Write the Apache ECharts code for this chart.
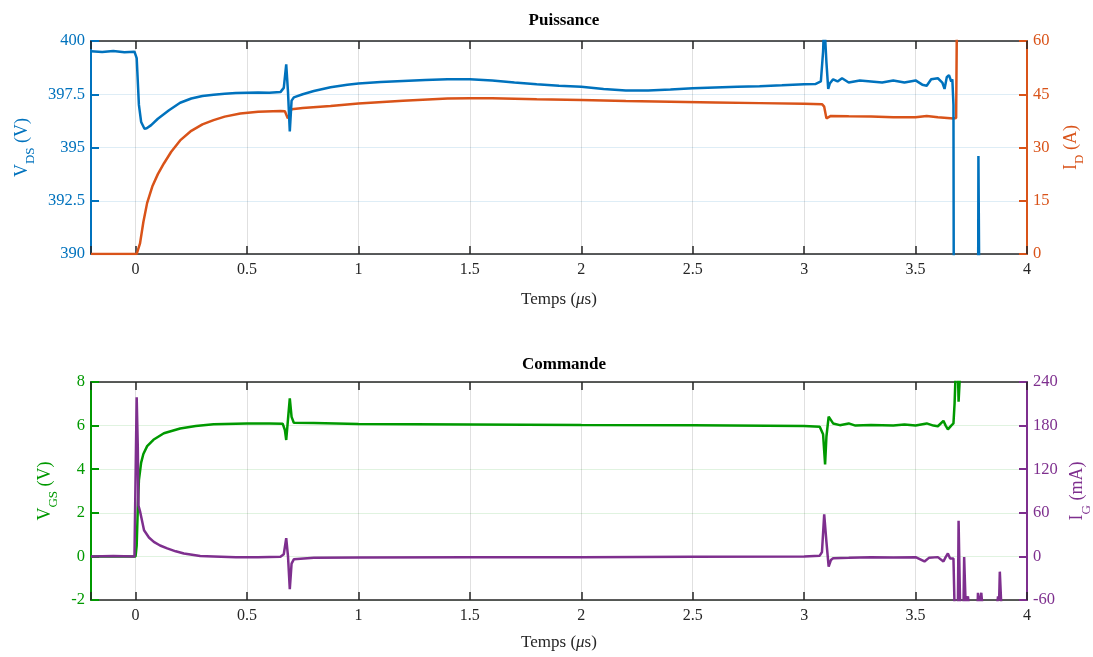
<!DOCTYPE html>
<html><head><meta charset="utf-8">
<script src="https://cdn.jsdelivr.net/npm/echarts@6/dist/echarts.min.js"></script>
<style>html,body{margin:0;padding:0;background:#fff}#c{width:1093px;height:657px}</style>
</head><body><div id="c"></div>
<script>
// ---- Data (time in µs) ----
const vdsT = [-0.2,-0.15,-0.1,-0.05,-0.005,0.005,0.015,0.025,0.04,0.05,0.07,0.1,0.15,0.2,0.25,0.3,0.35,0.4,0.45,0.5,0.55,0.6,0.65,0.665,0.676,0.684,0.692,0.7,0.71,0.75,0.8,0.875,0.95,1.0,1.1,1.2,1.3,1.4,1.5,1.6,1.7,1.8,1.9,2.0,2.1,2.2,2.3,2.4,2.5,2.6,2.7,2.8,2.9,3.0,3.05,3.075,3.085,3.09,3.095,3.1,3.108,3.115,3.13,3.15,3.17,3.2,3.25,3.3,3.35,3.4,3.45,3.5,3.53,3.55,3.57,3.6,3.62,3.63,3.64,3.65,3.66,3.665,3.67,3.672,3.78,3.782,3.786,3.788,3.8];
const vdsV = [399.52,399.48,399.53,399.47,399.5,399.2,397.0,396.2,395.88,395.9,396.05,396.35,396.75,397.1,397.3,397.42,397.48,397.52,397.56,397.57,397.58,397.57,397.6,397.8,398.9,397.6,395.75,397.2,397.35,397.5,397.65,397.83,397.95,398.0,398.07,398.12,398.17,398.2,398.2,398.15,398.05,397.97,397.9,397.85,397.75,397.68,397.68,397.72,397.78,397.82,397.85,397.88,397.92,397.97,397.98,398.1,399.5,401,401,399,397.75,398.0,398.2,398.1,398.25,398.05,398.15,398.1,398.05,398.15,398.05,398.15,397.95,397.9,398.2,398.25,398.05,397.75,398.3,398.4,398.1,398.2,397.0,385,385,394.6,394.6,385,385];

const idT = [-0.2,0.005,0.02,0.035,0.052,0.075,0.1,0.127,0.16,0.2,0.25,0.3,0.35,0.4,0.47,0.55,0.65,0.67,0.683,0.69,0.7,0.75,0.875,1.0,1.2,1.4,1.5,1.6,1.8,2.0,2.2,2.4,2.6,2.8,3.0,3.08,3.09,3.1,3.12,3.2,3.3,3.4,3.5,3.55,3.6,3.67,3.682,3.686];
const idV = [0,0,3,9,14.4,19,22.5,25.5,28.8,32,34.7,36.5,37.7,38.7,39.6,40.1,40.3,40.2,38.2,39.2,40.8,41.1,41.7,42.4,43.2,43.8,43.9,43.9,43.6,43.4,43.1,42.9,42.7,42.5,42.3,42.2,41.5,38.2,38.9,38.8,38.7,38.5,38.5,38.9,38.5,38.2,38.3,70];

const vgsT = [-0.2,0.0,0.005,0.01,0.015,0.025,0.035,0.052,0.08,0.127,0.2,0.27,0.35,0.45,0.5,0.6,0.66,0.67,0.676,0.684,0.692,0.7,0.71,0.8,1.0,1.5,2.0,2.5,3.0,3.07,3.085,3.094,3.1,3.11,3.13,3.16,3.2,3.23,3.3,3.4,3.45,3.5,3.55,3.58,3.6,3.625,3.635,3.645,3.66,3.67,3.675,3.68,3.69,3.693,3.697,3.7];
const vgsV = [0,0,0.5,2.2,3.5,4.3,4.7,5.06,5.35,5.65,5.87,5.98,6.06,6.09,6.1,6.1,6.09,5.8,5.34,6.3,7.25,6.4,6.13,6.12,6.07,6.05,6.03,6.02,5.98,5.95,5.6,4.22,5.5,6.41,6.1,6.02,6.1,6.0,6.03,6.0,6.05,6.0,6.1,6.0,5.97,6.22,6.0,5.83,6.0,6.1,7.0,8.5,8.5,7.1,7.1,8.5];

const igT = [-0.2,-0.1,-0.005,0.0,0.005,0.01,0.013,0.02,0.025,0.038,0.06,0.082,0.11,0.142,0.18,0.217,0.29,0.35,0.45,0.55,0.65,0.665,0.676,0.684,0.692,0.7,0.71,0.8,1.0,1.5,2.0,2.5,3.0,3.07,3.08,3.09,3.1,3.11,3.12,3.13,3.2,3.3,3.4,3.5,3.54,3.56,3.6,3.625,3.635,3.645,3.655,3.67,3.675,3.69,3.693,3.697,3.7,3.715,3.718,3.722,3.725,3.735,3.74,3.778,3.78,3.785,3.795,3.8,3.865,3.87,3.875,3.878,3.882,3.885];
const igV = [0,0.5,0,-2,219,150,70,62,55,36,26,20,15,11,7,4,0.5,0,-1,-1,-0.5,3,25,0,-45,-10,-4,-2,-1.5,-1,-1,-0.5,0,1,6,58,20,-14,-5,-2.6,-2,-1,-1.5,-1,-7,-2,-1,-7,-1,4,-3,-3,-70,-70,49,49,-70,-70,-1,-1,-70,-55,-70,-70,-50,-70,-50,-70,-70,-55,-60,-21,-21,-70];

const titles = ['Puissance','Commande'];

// ---- Styling ----
const FONT = 'Liberation Serif';
const BLUE = '#0072BD', ORANGE = '#D95319', GREEN = '#009900', PURPLE = '#7E2F8E';
const zip = (t, v) => t.map((x, i) => [x, v[i]]);

const grids = [
  {left: 91, right: 66, top: 41, height: 213, outerBoundsMode: 'none'},
  {left: 91, right: 66, top: 382, height: 218, outerBoundsMode: 'none'}
];

function xAxes(gi, gap) {
  const base = {
    gridIndex: gi, type: 'value', min: -0.2, max: 4,
    splitNumber: 8, minInterval: 0.5, maxInterval: 0.5
  };
  return [
    Object.assign({}, base, {
      position: 'bottom',
      axisLine: {show: true, onZero: false, lineStyle: {color: '#262626', width: 1.5}},
      axisTick: {show: true, inside: true, length: 8, lineStyle: {color: '#262626', width: 1.5}},
      axisLabel: {color: '#262626', fontFamily: FONT, fontSize: 16, margin: 8,
        formatter: v => (v < -0.1 ? '' : String(Math.round(v * 10) / 10))},
      splitLine: {show: true, lineStyle: {color: 'rgba(0,0,0,0.12)', width: 1}},
      name: '{n|Temps (}{i|\u03bc}{n|s)}', nameLocation: 'middle', nameGap: gap,
      nameTextStyle: {rich: {
        n: {fontFamily: FONT, fontSize: 17, color: '#262626'},
        i: {fontFamily: FONT, fontSize: 17, color: '#262626', fontStyle: 'italic'}
      }}
    }),
    Object.assign({}, base, {
      position: 'top',
      axisLine: {show: true, onZero: false, lineStyle: {color: '#262626', width: 1.5}},
      axisTick: {show: true, inside: true, length: 8, lineStyle: {color: '#262626', width: 1.5}},
      axisLabel: {show: false},
      splitLine: {show: false}
    })
  ];
}

function yAxis(gi, pos, min, max, interval, color, gridColor, nameMain, nameSub, nameUnit, gap) {
  return {
    gridIndex: gi, type: 'value', position: pos, min: min, max: max, interval: interval,
    axisLine: {show: true, onZero: false, lineStyle: {color: color, width: 2}},
    axisTick: {show: true, inside: true, length: 8, lineStyle: {color: color, width: 2}},
    axisLabel: {color: color, fontFamily: FONT, fontSize: 16.5, margin: 6,
      formatter: v => String(v)},
    splitLine: {show: !!gridColor, lineStyle: {color: gridColor || '#fff', width: 1}},
    name: '{n|' + nameMain + '}{s|' + nameSub + '}{n| ' + nameUnit + '}',
    nameLocation: 'middle', nameRotate: 90, nameGap: gap,
    nameTextStyle: {rich: {
      n: {fontFamily: FONT, fontSize: 18, color: color, lineHeight: 26, verticalAlign: 'middle'},
      s: {fontFamily: FONT, fontSize: 13, color: color, lineHeight: 30, verticalAlign: 'bottom'}
    }}
  };
}

const option = {
  animation: false,
  backgroundColor: '#fff',
  title: titles.map((t, i) => ({
    text: t, left: 559, textAlign: 'center', top: i === 0 ? 7 : 351,
    textStyle: {fontFamily: FONT, fontSize: 17, fontWeight: 'bold', color: '#000'}
  })),
  grid: grids,
  xAxis: xAxes(0, 37).concat(xAxes(1, 34)),
  yAxis: [
    yAxis(0, 'left', 390, 400, 2.5, BLUE, 'rgba(0,114,189,0.13)', 'V', 'DS', '(V)', 50),
    yAxis(0, 'right', 0, 60, 15, ORANGE, null, 'I', 'D', '(A)', 29),
    yAxis(1, 'left', -2, 8, 2, GREEN, 'rgba(0,153,0,0.12)', 'V', 'GS', '(V)', 23),
    yAxis(1, 'right', -60, 240, 60, PURPLE, null, 'I', 'G', '(mA)', 34)
  ],
  series: [
    {type: 'line', xAxisIndex: 0, yAxisIndex: 1, data: zip(idT, idV), showSymbol: false, clip: true,
      lineStyle: {color: ORANGE, width: 2.5}, z: 2},
    {type: 'line', xAxisIndex: 0, yAxisIndex: 0, data: zip(vdsT, vdsV), showSymbol: false, clip: true,
      lineStyle: {color: BLUE, width: 2.5}, z: 3},
    {type: 'line', xAxisIndex: 2, yAxisIndex: 2, data: zip(vgsT, vgsV), showSymbol: false, clip: true,
      lineStyle: {color: GREEN, width: 2.5}, z: 2},
    {type: 'line', xAxisIndex: 2, yAxisIndex: 3, data: zip(igT, igV), showSymbol: false, clip: true,
      lineStyle: {color: PURPLE, width: 2.5}, z: 3}
  ]
};
const chart = echarts.init(document.getElementById('c'), null, {renderer: 'canvas'});
chart.setOption(option);
</script>
</body></html>
